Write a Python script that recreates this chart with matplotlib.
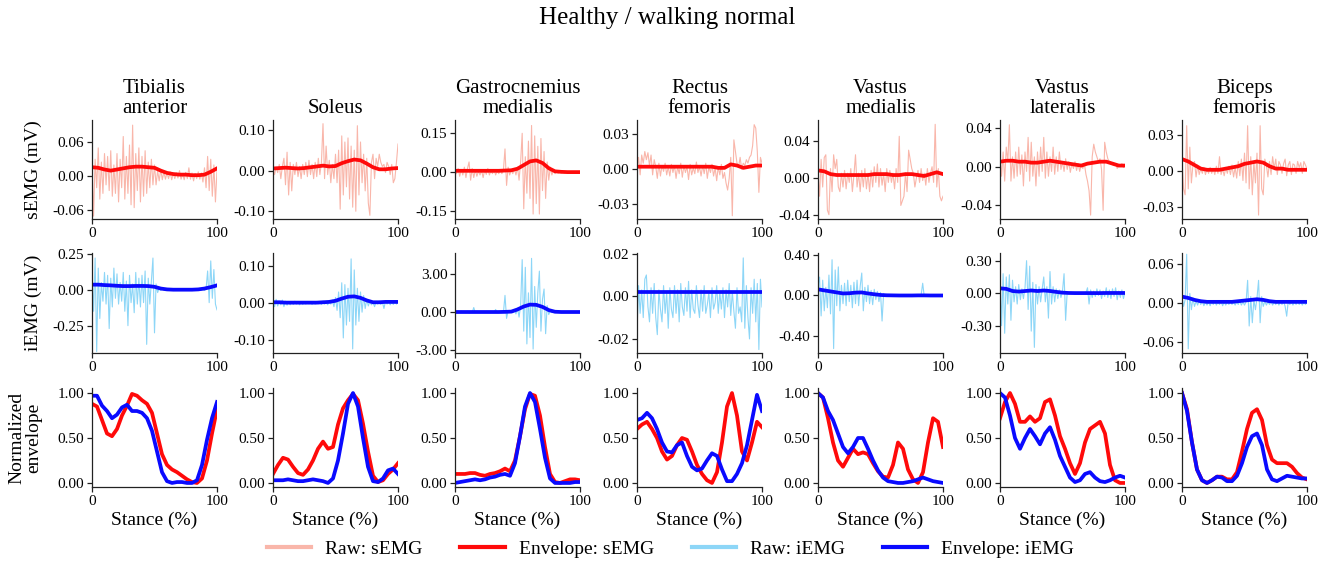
import numpy as np
import matplotlib
matplotlib.use('Agg')
from matplotlib import pyplot as plt
from matplotlib.lines import Line2D

plt.rcParams['font.family'] = ['Liberation Serif', 'DejaVu Serif']
plt.rcParams['axes.unicode_minus'] = False
plt.rcParams['lines.solid_joinstyle'] = 'round'

### Data ###
title = 'Healthy / walking normal'
muscles = ['Tibialis\nanterior', 'Soleus', 'Gastrocnemius\nmedialis', 'Rectus\nfemoris',
           'Vastus\nmedialis', 'Vastus\nlateralis', 'Biceps\nfemoris']

# raw sEMG, 81 samples over stance, in uV
ta_semg_raw = [20, -70, 30, -20, 50, -40, 25, -30, 40, -15,
               35, -25, 45, -35, 20, -30, 40, -45, 30, -20,
               70, -40, 35, -30, 55, -50, 90, -55, 40, -25,
               50, -45, 35, -35, 45, -30, 25, -20, 30, -15,
               20, -15, 10, -8, 12, -6, 8, -5, 6, -4,
               8, -6, 5, -4, 6, -3, 10, -5, 4, -6,
               7, -4, 15, -5, 6, -8, 5, -4, 8, -5,
               6, -10, 15, -20, 35, -25, 30, -35, 20, -45, 10]
sol_semg_raw = [5, -10, 8, -5, 15, -20, 10, 30, -35, 45,
                -60, 20, -50, 15, -10, 20, -15, 10, -20, 15,
                -10, 20, -15, 25, -10, 15, -20, 20, -15, 30,
                -10, 20, 115, -20, 60, -10, 25, -30, 15, -20,
                40, -30, 50, -95, 85, -60, 70, -40, 80, -70,
                60, -90, 50, -100, 110, -60, 70, -30, 40, -50,
                30, -80, -110, 20, 40, -20, 30, 10, 40, 20,
                10, 15, -5, 20, 10, -10, 15, -30, -20, 20, 65]
gm_semg_raw = [10, -5, 15, -15, 10, -10, 20, -20, 15, 40,
               -30, 15, -20, 10, -15, 5, -10, 8, -20, 10,
               -8, 15, -10, 5, -5, 10, -10, 5, -5, 8,
               -5, 10, 90, -50, 20, -10, 10, -5, 15, -10,
               20, -30, 40, 150, -140, 60, -80, 120, -100, 180,
               -160, 140, -120, 100, -160, 130, -70, 80, -100, 40,
               -30, 20, -10, 10, -5, 5, -3, 3, -2, 2,
               -2, 2, -1, 1, -1, 1, 0, 1, -1, 1, 0]
rf_semg_raw = [0, 10, -5, 12, 5, 15, 8, 14, 3, 12,
               -5, 8, 2, -8, 5, -6, 3, -2, 5, -5,
               2, -6, 4, -3, 3, -8, 2, -4, 5, -7,
               3, -3, 2, -9, 4, -5, 1, -4, 6, -3,
               2, -6, 3, -4, 5, -8, 2, -3, 4, -6,
               1, -10, 2, -5, 4, -8, -3, -12, -18, -8,
               10, -40, 25, 15, 5, 2, 10, 0, 5, 3,
               8, 5, 10, 12, 20, 38, 35, 15, -20, 10, 5]
vm_semg_raw = [5, -20, 20, -10, 22, 25, -35, -40, 10, -15,
               25, 10, 20, -10, -15, 5, -10, 8, -12, 5,
               -5, 10, -15, 3, 25, -10, 5, -15, 8, -10,
               10, -12, 5, -15, 8, -10, 12, -5, 15, -10,
               10, -8, 5, -15, 10, -5, 8, -5, 5, -12,
               10, -5, 45, -30, -25, -20, 5, -15, 30, 20,
               10, 5, -10, 0, 8, -5, 10, -3, 5, -8,
               10, -5, 5, 12, -5, 58, -10, 10, -20, -25, -20]
vl_semg_raw = [10, -10, 15, -15, 20, 5, 43, -15, 10, -12,
               15, -10, 20, -8, 12, -20, 15, -5, 30, -15,
               25, -10, 10, -20, 15, -10, 20, -5, 30, -12,
               15, -10, 10, -5, 20, -8, 10, -5, 15, -3,
               5, -5, 8, -3, 5, -6, 3, -2, 5, -4,
               3, -5, 2, -2, 3, -8, -15, -25, -50, 10,
               23, 15, 10, 5, 8, -3, -45, 25, 15, 8,
               5, 3, 2, 1, 3, -2, 2, 0, 3, -1, 1]
bf_semg_raw = [10, -15, -20, 38, -15, 20, -10, 5, 8, -5,
               5, -3, 2, -2, 3, -3, 2, -2, 3, -2,
               2, -3, 4, -2, 12, -3, 2, -4, 3, -2,
               4, -3, 5, -5, 3, -6, 8, -4, 10, -8,
               15, -10, 38, -15, 12, -20, 8, -10, 15, -37,
               38, -15, -20, 10, 5, -5, 8, -3, 12, 2,
               10, -3, 8, 5, -2, 6, 10, -4, 5, 8,
               -3, 6, 5, -2, 8, 3, 7, -2, 8, 5, 2]

# raw iEMG, 81 samples over stance, in uV
ta_iemg_raw = [100, -150, 220, -430, 150, -200, 50, -80, 120, -100,
               100, -270, 80, -120, 150, -60, 110, -100, 50, -80,
               120, -150, 60, -250, 100, -90, 40, -160, 120, -100,
               80, -120, 100, -90, 130, -380, 80, -100, 60, 220,
               -300, 40, -20, 10, -5, 5, -3, 2, -2, 2,
               -1, 1, -1, 1, -1, 1, -1, 1, -1, 1,
               -1, 1, -1, 1, -1, 1, -1, 1, -1, 1,
               -2, 3, -5, 5, 130, -90, 200, -60, 140, -100, -140]
sol_iemg_raw = [15, -10, 10, -8, 5, -5, 8, -10, 5, -6,
                4, -5, 3, -4, 5, -3, 4, -5, 3, -4,
                2, -3, 4, -2, 3, -4, 2, -3, 4, -2,
                3, -4, 5, -3, 2, -5, 4, -3, 8, -10,
                15, -20, 30, -40, 55, -95, 50, -60, 40, -50,
                120, -125, 90, -60, 40, -50, 30, -25, 20, -15,
                10, -8, 5, -5, 3, -10, 4, -3, 5, -4,
                3, -15, 5, -3, 4, -5, 3, -4, 5, -3, 2]
gm_iemg_raw = [50, -50, 80, -30, 60, -40, 30, -60, 50, -80,
               40, -30, 350, -50, 60, -30, 40, -20, 30, -40,
               50, -30, 20, -40, 30, -20, 200, -50, 30, -20,
               20, -30, 1300, -500, 100, -50, 80, -60, 200, -150,
               300, -400, 500, 4100, -1500, 3500, -2500, 1500, -2000, 4200,
               -2900, 2000, -1200, 1500, 3200, -1500, 1000, 1800, -1700, 500,
               -200, 100, -50, 30, -20, 10, -10, 5, -5, 5,
               -5, 5, -3, 3, -2, 2, -2, 2, -1, 1, 0]
rf_iemg_raw = [-17, 5, -8, 3, -10, 8, 10, -5, -12, 4,
               -8, 6, -10, -18, 3, -6, -12, 5, -8, 2,
               -15, 4, -6, -10, 5, -8, 3, -12, 6, -5,
               -9, 4, -7, 7, -10, 3, -6, -8, 5, -4,
               -10, 3, -7, 5, -8, -4, 2, -10, 4, -6,
               -3, 5, -8, 2, -6, 4, -10, 3, -5, 6,
               -9, 2, -7, -15, 4, -8, -5, -12, 18, -15,
               5, -10, -20, 4, -8, 8, -12, 6, -25, 8, -5]
vm_iemg_raw = [100, 180, -200, 150, -150, 80, -120, 200, -180, 350,
               -520, 250, -100, 280, -150, 100, -80, 120, -100, 150,
               -60, 100, -120, 130, -80, 150, -100, 90, 220, -150,
               80, -60, 100, -80, 50, -90, 60, -40, 40, -60,
               30, -250, 20, -10, 10, -8, 5, -5, 5, -5,
               4, -4, 3, -3, 3, -3, 3, -3, 2, -2,
               2, -2, 2, -2, 3, -3, 5, 120, -10, 5,
               -5, 3, -3, 2, -2, 2, -2, 2, -2, 2, -1]
vl_iemg_raw = [200, -300, 180, -370, 150, -100, 170, -250, 120, -80,
               60, -100, 80, -60, 40, -50, 50, 300, -150, 250,
               -350, 100, -500, 80, -100, 60, -80, 40, 150, -80,
               60, -230, 200, -100, 60, -80, 40, -50, 30, -40,
               20, 180, -250, 10, -5, 5, -5, 5, -5, 5,
               -5, 5, -5, 5, -5, 5, 50, -100, 30, -40,
               20, -30, 40, -20, 30, -50, 20, -30, 50, -40,
               30, -50, 40, -30, 50, -60, 20, -40, 30, -50, 10]
bf_iemg_raw = [10, -5, 5, 75, -70, 15, -10, 8, -5, 3,
               -3, 4, -2, 3, -4, 2, -3, 2, -4, 3,
               -2, 3, -3, 2, -2, 3, -4, 2, -3, 2,
               -2, 3, -2, 2, -3, 2, -2, 3, -3, 2,
               -3, 2, 35, -35, 10, -30, 5, -10, 8, 35,
               -30, 10, -5, 3, -3, 2, -2, 3, -3, 2,
               -2, 3, -3, 2, -2, 3, -5, -20, 3, -2,
               2, -3, 2, -2, 3, -2, 2, -3, 2, -2, 1]

# envelopes, 21 samples (every 5 %), in uV
ta_semg_env = [16, 15, 12, 10, 12, 14, 16, 17, 17, 16, 15, 10, 6, 4, 3, 3, 2, 2, 3, 8, 14]
sol_semg_env = [5, 6, 7, 6, 5, 6, 8, 10, 12, 10, 11, 18, 23, 27, 25, 17, 8, 3, 3, 5, 6]
gm_semg_env = [6, 6, 6, 6, 6, 6, 6, 6, 7, 8, 14, 28, 42, 46, 36, 16, 4, 2, 1, 1, 1]
rf_semg_env = [2, 2, 2, 2, 2, 2, 2, 2, 2, 2, 2, 2, 2, 1, 1, 4, 3, 1, 2, 3, 3]
vm_semg_env = [8, 7, 4, 3, 3, 3, 3, 3, 3, 4, 4, 4, 3, 3, 4, 4, 3, 2, 4, 6, 4]
vl_semg_env = [5, 6, 6, 5, 5, 4, 4, 5, 6, 5, 4, 3, 2, 1, 3, 4, 5, 5, 3, 1, 1]
bf_semg_env = [10, 8, 5, 2, 1, 1, 1, 2, 3, 4, 6, 7, 8, 7, 4, 2, 2, 1, 1, 1, 1]

ta_iemg_env = [35, 35, 32, 30, 27, 25, 25, 26, 26, 25, 20, 8, 2, 0, 0, 0, 0, 2, 8, 18, 30]
sol_iemg_env = [2, 2, 1, 1, 1, 1, 1, 1, 2, 3, 6, 12, 17, 18, 14, 7, 2, 2, 3, 3, 3]
gm_iemg_env = [0, 0, 0, 0, 0, 0, 0, 0, 10, 30, 200, 430, 580, 560, 400, 150, 20, 0, 0, 0, 0]
rf_iemg_env = [2, 2, 2, 2, 2, 2, 2, 2, 2, 2, 2, 2, 2, 2, 2, 2, 2, 2, 2, 2, 2]
vm_iemg_env = [60, 50, 40, 30, 20, 22, 28, 30, 20, 12, 5, 2, 1, 0, 0, 0, 1, 1, 0, 0, 0]
vl_iemg_env = [45, 40, 20, 15, 20, 25, 20, 25, 20, 12, 5, 2, 1, 1, 1, 1, 1, 2, 2, 2, 2]
bf_iemg_env = [10, 8, 5, 3, 2, 2, 2, 2, 2, 3, 4, 5, 6, 5, 3, 2, 2, 2, 2, 2, 2]

# normalized envelopes, 26 samples (every 4 %)
ta_semg_norm = [0.88, 0.85, 0.7, 0.55, 0.52, 0.6, 0.75, 0.86, 0.99, 0.97, 0.92, 0.88, 0.78,
                0.55, 0.32, 0.2, 0.15, 0.12, 0.08, 0.04, 0.01, 0.0, 0.05, 0.25, 0.55, 0.82]
ta_iemg_norm = [0.97, 0.97, 0.86, 0.8, 0.72, 0.76, 0.84, 0.87, 0.8, 0.8, 0.78, 0.72, 0.58,
                0.35, 0.12, 0.02, 0.0, 0.01, 0.01, 0.0, 0.0, 0.03, 0.2, 0.48, 0.72, 0.9]
sol_semg_norm = [0.1, 0.2, 0.28, 0.26, 0.18, 0.11, 0.09, 0.15, 0.25, 0.38, 0.46, 0.38, 0.4,
                 0.65, 0.83, 0.92, 0.99, 0.92, 0.66, 0.35, 0.08, 0.01, 0.03, 0.1, 0.15, 0.22]
sol_iemg_norm = [0.03, 0.03, 0.03, 0.04, 0.03, 0.02, 0.02, 0.03, 0.04, 0.03, 0.02, 0.0, 0.05,
                 0.25, 0.55, 0.88, 1.0, 0.85, 0.5, 0.18, 0.02, 0.01, 0.05, 0.14, 0.16, 0.1]
gm_semg_norm = [0.1, 0.1, 0.1, 0.11, 0.11, 0.09, 0.08, 0.1, 0.11, 0.13, 0.16, 0.13, 0.25,
                0.52, 0.82, 0.99, 0.97, 0.75, 0.4, 0.1, 0.01, 0.0, 0.02, 0.04, 0.04, 0.03]
gm_iemg_norm = [0.0, 0.01, 0.02, 0.03, 0.04, 0.03, 0.04, 0.06, 0.07, 0.09, 0.1, 0.08, 0.22,
                0.52, 0.85, 1.0, 0.9, 0.6, 0.28, 0.05, 0.0, 0.0, 0.0, 0.0, 0.01, 0.01]
rf_semg_norm = [0.6, 0.65, 0.68, 0.6, 0.5, 0.35, 0.26, 0.3, 0.42, 0.5, 0.48, 0.35, 0.2,
                0.1, 0.03, 0.0, 0.12, 0.45, 0.85, 1.0, 0.75, 0.35, 0.25, 0.45, 0.68, 0.62]
rf_iemg_norm = [0.7, 0.72, 0.78, 0.72, 0.6, 0.45, 0.35, 0.34, 0.42, 0.45, 0.3, 0.18, 0.14,
                0.16, 0.25, 0.33, 0.3, 0.15, 0.02, 0.02, 0.1, 0.22, 0.42, 0.7, 0.98, 0.8]
vm_semg_norm = [1.0, 0.95, 0.72, 0.45, 0.25, 0.18, 0.28, 0.38, 0.32, 0.34, 0.32, 0.22, 0.13,
                0.07, 0.06, 0.2, 0.45, 0.38, 0.15, 0.04, 0.0, 0.12, 0.45, 0.72, 0.68, 0.4]
vm_iemg_norm = [1.0, 0.95, 0.8, 0.7, 0.55, 0.4, 0.33, 0.4, 0.5, 0.5, 0.38, 0.25, 0.14,
                0.06, 0.02, 0.01, 0.0, 0.0, 0.01, 0.02, 0.04, 0.06, 0.04, 0.02, 0.01, 0.0]
vl_semg_norm = [0.72, 0.9, 1.0, 0.88, 0.68, 0.68, 0.74, 0.68, 0.72, 0.9, 0.93, 0.75, 0.52,
                0.38, 0.22, 0.1, 0.22, 0.45, 0.6, 0.64, 0.68, 0.55, 0.2, 0.03, 0.0, 0.0]
vl_iemg_norm = [1.0, 0.95, 0.75, 0.5, 0.38, 0.5, 0.6, 0.52, 0.43, 0.55, 0.62, 0.48, 0.3,
                0.18, 0.06, 0.01, 0.03, 0.1, 0.12, 0.06, 0.02, 0.01, 0.03, 0.06, 0.08, 0.06]
bf_semg_norm = [1.0, 0.82, 0.45, 0.15, 0.03, 0.0, 0.03, 0.07, 0.07, 0.04, 0.04, 0.12, 0.35,
                0.6, 0.78, 0.82, 0.7, 0.42, 0.26, 0.22, 0.22, 0.22, 0.18, 0.11, 0.06, 0.04]
bf_iemg_norm = [1.0, 0.8, 0.45, 0.15, 0.03, 0.0, 0.03, 0.07, 0.06, 0.02, 0.02, 0.08, 0.22,
                0.4, 0.52, 0.55, 0.42, 0.15, 0.04, 0.02, 0.05, 0.08, 0.07, 0.06, 0.05, 0.05]

semg_raw = [ta_semg_raw, sol_semg_raw, gm_semg_raw, rf_semg_raw, vm_semg_raw, vl_semg_raw, bf_semg_raw]
iemg_raw = [ta_iemg_raw, sol_iemg_raw, gm_iemg_raw, rf_iemg_raw, vm_iemg_raw, vl_iemg_raw, bf_iemg_raw]
semg_env = [ta_semg_env, sol_semg_env, gm_semg_env, rf_semg_env, vm_semg_env, vl_semg_env, bf_semg_env]
iemg_env = [ta_iemg_env, sol_iemg_env, gm_iemg_env, rf_iemg_env, vm_iemg_env, vl_iemg_env, bf_iemg_env]
semg_norm = [ta_semg_norm, sol_semg_norm, gm_semg_norm, rf_semg_norm, vm_semg_norm, vl_semg_norm, bf_semg_norm]
iemg_norm = [ta_iemg_norm, sol_iemg_norm, gm_iemg_norm, rf_iemg_norm, vm_iemg_norm, vl_iemg_norm, bf_iemg_norm]

### Axis ranges / ticks ###
semg_tick = [0.06, 0.10, 0.15, 0.03, 0.04, 0.04, 0.03]
semg_lim = [(-0.075, 0.099), (-0.119, 0.124), (-0.179, 0.201), (-0.0428, 0.042),
            (-0.0447, 0.0627), (-0.054, 0.0479), (-0.0403, 0.0428)]
iemg_tick = [0.25, 0.10, 3.00, 0.02, 0.40, 0.30, 0.06]
iemg_lim = [(-0.44, 0.255), (-0.136, 0.136), (-3.21, 4.62), (-0.0266, 0.0203),
            (-0.563, 0.416), (-0.552, 0.371), (-0.0764, 0.0769)]

c_raw_s = '#f9b6aa'
c_env_s = '#ff0a0a'
c_raw_i = '#8dd6f7'
c_env_i = '#0a0aff'

x_raw = np.linspace(0, 100, 81)
x_env = np.linspace(0, 100, 21)
x_norm = np.linspace(0, 100, 26)

###### Plot ######
W, H = 1334, 563
fig = plt.figure(figsize=(W / 100, H / 100), dpi=100)
lefts = [92, 273, 455, 637, 818, 1000, 1182]
rows = [(120, 219), (253, 353), (388, 487)]
aw = 125


def style(ax, tick, lim):
    for s in ['top', 'right']:
        ax.spines[s].set_visible(False)
    for s in ['left', 'bottom']:
        ax.spines[s].set_linewidth(0.9)
        ax.spines[s].set_color('#222222')
    ax.set_xlim(0, 100)
    ax.set_ylim(*lim)
    ax.set_xticks([0, 100])
    ax.set_xticklabels(['0', '100'])
    ax.set_yticks([-tick, 0, tick] if tick != 0.5 else [0, 0.5, 1.0])
    ax.yaxis.set_major_formatter(plt.FormatStrFormatter('%.2f'))
    ax.tick_params(labelsize=11, length=3.5, width=0.9, pad=2, color='#222222')


for c in range(7):
    l = lefts[c]
    axs = []
    for top, bot in rows:
        axs.append(fig.add_axes([l / W, 1 - bot / H, aw / W, (bot - top) / H]))
    ax1, ax2, ax3 = axs

    ax1.plot(x_raw, np.array(semg_raw[c]) / 1000, color=c_raw_s, lw=0.8)
    ax1.plot(x_env, np.array(semg_env[c]) / 1000, color=c_env_s, lw=2.7)
    style(ax1, semg_tick[c], semg_lim[c])
    ax1.set_title(muscles[c], fontsize=15, pad=5, linespacing=1.05)

    ax2.plot(x_raw, np.array(iemg_raw[c]) / 1000, color=c_raw_i, lw=0.8)
    ax2.plot(x_env, np.array(iemg_env[c]) / 1000, color=c_env_i, lw=2.7)
    style(ax2, iemg_tick[c], iemg_lim[c])

    ax3.plot(x_norm, semg_norm[c], color=c_env_s, lw=2.7)
    ax3.plot(x_norm, iemg_norm[c], color=c_env_i, lw=2.7)
    style(ax3, 0.5, (-0.045, 1.056))
    ax3.set_xlabel('Stance (%)', fontsize=14, labelpad=3)

    if c == 0:
        ax1.set_ylabel('sEMG (mV)', fontsize=14)
        ax2.set_ylabel('iEMG (mV)', fontsize=14)
        ax3.set_ylabel('Normalized\nenvelope', fontsize=14, linespacing=1.0)
        for a in axs:
            a.yaxis.set_label_coords(-0.4, 0.5)

fig.text(0.5, 1 - 18 / H, title, fontsize=18, ha='center', va='center')

handles = [Line2D([], [], color=c_raw_s, lw=3), Line2D([], [], color=c_env_s, lw=3),
           Line2D([], [], color=c_raw_i, lw=3), Line2D([], [], color=c_env_i, lw=3)]
labels = ['Raw: sEMG', 'Envelope: sEMG', 'Raw: iEMG', 'Envelope: iEMG']
fig.legend(handles, labels, ncol=4, loc='center', bbox_to_anchor=(0.5026, 1 - 549 / H),
           frameon=False, fontsize=14, handlelength=2.27, handletextpad=0.72,
           columnspacing=1.96, borderpad=0.2)

fig.savefig('out.png', dpi=100)
